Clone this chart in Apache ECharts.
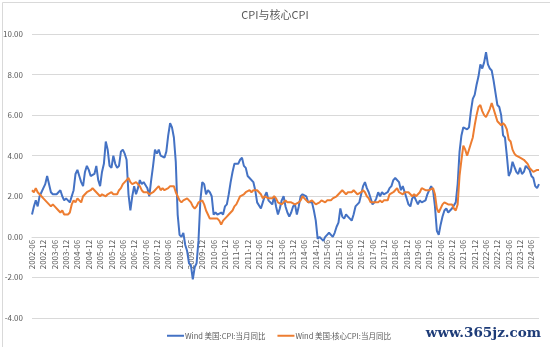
<!DOCTYPE html>
<html><head><meta charset="utf-8">
<script src="https://cdn.jsdelivr.net/npm/echarts@6/dist/echarts.min.js"></script>
<style>html,body{margin:0;padding:0;background:#fff}#c{width:550px;height:347px}</style>
</head><body><div id="c"></div>
<script>
var startYear = 2002, startMonth = 6, nMonths = 269;
var categories = [];
for (var i = 0; i < nMonths; i++) {
  var m = startMonth - 1 + i;
  var y = startYear + Math.floor(m / 12);
  var mm = (m % 12) + 1;
  categories.push(y + '-' + (mm < 10 ? '0' + mm : '' + mm));
}
var seriesNames = ['Wind 美国:CPI:当月同比', 'Wind 美国:核心CPI:当月同比'];
var cpi = [
1.1,1.5,1.8,1.5,2.0,2.2,2.4,
2.6,3.0,3.0,2.2,2.1,2.1,2.1,2.2,2.3,2.0,1.8,1.9,
1.9,1.7,1.7,2.3,3.1,3.3,3.0,2.7,2.5,3.2,3.5,3.3,
3.0,3.0,3.1,3.5,2.8,2.5,3.2,3.6,4.7,4.3,3.5,3.4,
4.0,3.6,3.4,3.5,4.2,4.3,4.1,3.8,2.1,1.3,2.0,2.5,
2.1,2.4,2.8,2.6,2.7,2.7,2.4,2.0,2.8,3.5,4.3,4.1,
4.3,4.0,4.0,3.9,4.2,5.0,5.6,5.4,4.9,3.7,1.1,0.1,
0.0,0.2,-0.4,-0.7,-1.3,-1.4,-2.1,-1.5,-1.3,-0.2,1.8,2.7,
2.6,2.1,2.3,2.2,2.0,1.1,1.2,1.1,1.1,1.2,1.1,1.5,
1.6,2.1,2.7,3.2,3.6,3.6,3.6,3.8,3.9,3.5,3.4,3.0,
2.9,2.9,2.7,2.3,1.7,1.7,1.4,1.7,2.0,2.2,1.8,1.7,
1.6,2.0,1.5,1.1,1.4,1.8,2.0,1.5,1.2,1.0,1.2,1.5,
1.6,1.1,1.5,2.0,2.1,2.1,2.0,1.7,1.7,1.7,1.3,0.8,
-0.1,0.0,-0.1,-0.2,0.0,0.1,0.2,0.2,0.0,0.2,0.5,0.7,
1.4,1.0,0.9,1.1,1.0,1.0,0.8,1.1,1.5,1.6,1.7,2.1,
2.5,2.7,2.4,2.2,1.9,1.6,1.7,1.9,2.2,2.0,2.2,2.1,
2.1,2.2,2.4,2.5,2.8,2.9,2.9,2.7,2.3,2.5,2.2,1.9,
1.6,1.5,1.9,2.0,1.8,1.6,1.8,1.7,1.7,1.8,2.1,2.3,
2.5,2.3,1.5,0.3,0.1,0.6,1.0,1.3,1.4,1.2,1.2,1.4,
1.4,1.7,2.6,4.2,5.0,5.4,5.4,5.3,5.4,6.2,6.8,7.0,
7.5,7.9,8.5,8.3,8.6,9.1,8.5,8.3,8.2,7.7,7.1,6.5,
6.4,6.0,5.0,4.9,4.0,3.0,3.2,3.7,3.7,3.2,3.1,3.4,
3.1,3.2,3.5,3.4,3.3,3.0,2.9,2.5,2.4,2.6
];
var coreCpi = [
2.3,2.2,2.4,2.2,2.2,2.0,1.9,
1.9,1.7,1.7,1.5,1.6,1.5,1.5,1.3,1.2,1.3,1.1,1.1,
1.1,1.2,1.6,1.8,1.7,1.9,1.8,1.7,2.0,2.0,2.2,2.2,
2.3,2.4,2.3,2.2,2.2,2.0,2.1,2.1,2.0,2.1,2.1,2.2,
2.1,2.1,2.1,2.3,2.4,2.6,2.7,2.8,2.9,2.7,2.6,2.6,
2.7,2.7,2.5,2.3,2.2,2.2,2.2,2.1,2.1,2.2,2.3,2.4,
2.5,2.3,2.4,2.3,2.3,2.4,2.5,2.5,2.5,2.2,2.0,1.8,
1.7,1.8,1.8,1.9,1.8,1.7,1.5,1.4,1.5,1.7,1.7,1.8,
1.6,1.3,1.1,0.9,0.9,0.9,0.9,0.9,0.8,0.6,0.8,0.8,
1.0,1.1,1.2,1.3,1.5,1.6,1.8,2.0,2.0,2.1,2.2,2.2,
2.3,2.2,2.3,2.3,2.3,2.2,2.1,1.9,2.0,2.0,1.9,1.9,
1.9,2.0,1.9,1.7,1.7,1.6,1.7,1.8,1.7,1.7,1.7,1.7,
1.6,1.6,1.7,1.8,2.0,1.9,1.9,1.7,1.7,1.8,1.7,1.6,
1.6,1.7,1.8,1.8,1.7,1.8,1.8,1.8,1.9,1.9,2.0,2.1,
2.2,2.3,2.2,2.1,2.2,2.2,2.2,2.3,2.2,2.1,2.1,2.2,
2.3,2.2,2.0,1.9,1.7,1.7,1.7,1.7,1.7,1.8,1.7,1.8,
1.8,1.8,2.1,2.1,2.2,2.3,2.4,2.2,2.2,2.1,2.2,2.2,
2.2,2.1,2.0,2.1,2.0,2.1,2.2,2.4,2.4,2.3,2.3,2.3,
2.3,2.4,2.1,1.4,1.2,1.2,1.6,1.7,1.7,1.6,1.6,1.6,
1.4,1.3,1.6,3.0,3.8,4.5,4.3,4.0,4.0,4.6,4.9,5.5,
6.0,6.4,6.5,6.2,6.0,5.9,5.9,6.3,6.6,6.3,6.0,5.7,
5.6,5.5,5.6,5.5,5.3,4.8,4.7,4.3,4.1,4.0,4.0,3.9,
3.9,3.8,3.8,3.6,3.4,3.3,3.2,3.2,3.3,3.3
];
var yMin = -4, yMax = 10, yStep = 2;

var gridTop = 34, gridBottom = 29, H = 347;
var plotH = H - gridTop - gridBottom;
var zeroOffset = plotH * (0 - yMin) / (yMax - yMin);

var chart = echarts.init(document.getElementById('c'), null, {renderer: 'canvas'});
var font = '"Microsoft YaHei","Noto Sans CJK SC","Noto Sans",sans-serif';
chart.setOption({
  animation: false,
  backgroundColor: '#fff',
  title: {
    text: 'CPI与核心CPI', left: 'center', top: 4,
    textStyle: {fontSize: 11, fontWeight: 'normal', color: '#595959', fontFamily: font}
  },
  legend: {
    data: seriesNames, left: 162, top: 327, itemGap: 12,
    itemWidth: 17, itemHeight: 2, icon: 'rect',
    textStyle: {fontSize: 7.5, color: '#595959', fontFamily: font, padding: [0, 0, 0, -4]}
  },
  grid: {left: 32, right: 11, top: gridTop, bottom: gridBottom, containLabel: false},
  xAxis: {
    type: 'category', data: categories, boundaryGap: false,
    offset: -zeroOffset,
    axisLine: {onZero: false, lineStyle: {color: '#D9D9D9', width: 1}},
    axisTick: {show: false},
    axisLabel: {interval: 5, rotate: 90, fontSize: 8, color: '#595959', margin: 3, fontFamily: font}
  },
  yAxis: {
    type: 'value', min: yMin, max: yMax, interval: yStep,
    axisLine: {show: false}, axisTick: {show: false},
    splitLine: {lineStyle: {color: '#D9D9D9', width: 1}},
    axisLabel: {fontSize: 8, color: '#595959', margin: 9, fontFamily: font,
      formatter: function (v) { return v.toFixed(2); }}
  },
  series: [
    {name: seriesNames[0], type: 'line', data: cpi, showSymbol: false, symbol: 'none',
     lineStyle: {color: '#4472C4', width: 2}, itemStyle: {color: '#4472C4'}},
    {name: seriesNames[1], type: 'line', data: coreCpi, showSymbol: false, symbol: 'none',
     lineStyle: {color: '#ED7D31', width: 2}, itemStyle: {color: '#ED7D31'}}
  ],
  graphic: [
    {type: 'rect', left: 0, top: 0, shape: {x: 0.5, y: 0.5, width: 549, height: 346},
     style: {fill: 'none', stroke: '#D9D9D9', lineWidth: 1}, silent: true},
    {type: 'text', x: 541, y: 333,
     style: {text: 'www.365jz.com', fill: '#1E3C78', align: 'right', verticalAlign: 'middle',
       font: 'bold 13.5px "DejaVu Serif","Liberation Serif",serif'}}
  ]
});
</script></body></html>
